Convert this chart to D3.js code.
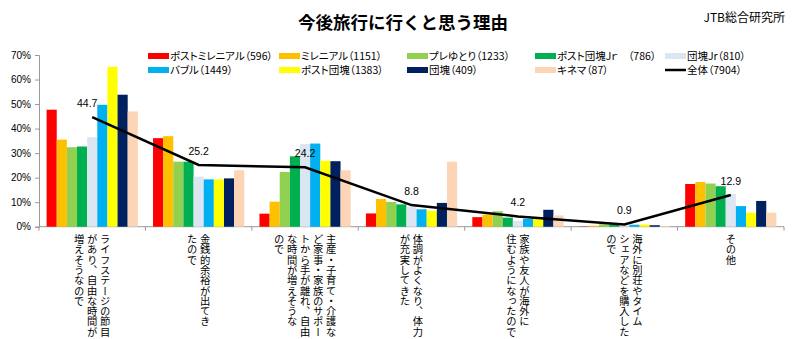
<!DOCTYPE html>
<html>
<head>
<meta charset="utf-8">
<script src="https://cdn.jsdelivr.net/npm/d3@7/dist/d3.min.js"></script>
<style>
  html, body { margin: 0; padding: 0; background: #fff; }
  svg { display: block; }
  .jp { font-family: "Noto Sans CJK JP", "Noto Sans", sans-serif; }
  .num { font-family: "Liberation Sans", Arial, sans-serif; }
</style>
</head>
<body>
<svg id="chart" width="800" height="339"></svg>
<script>
// Reasons (category labels, one entry per line of the stacked vertical label)
const categories = [
  ["ライフステージの節目", "があり、自由な時間が", "増えそうなので"],
  ["金銭的余裕が出てき", "たので"],
  ["主産・子育て・介護な", "ど家事・家族のサポー", "トから手が離れ、自由", "な時間が増えそうな", "ので"],
  ["体調がよくなり、体力", "が充実してきた"],
  ["家族や友人が海外に", "住むようになったので"],
  ["海外に別荘やタイム", "シェアなどを購入した", "ので"],
  ["その他"]
];

// Generation series (%)
const postMillennial = [47.7, 36.1, 5.3, 5.4, 3.9, 0.1, 17.4];
const millennial     = [35.5, 36.9, 10.2, 11.3, 4.9, 0.4, 18.2];
const preYutori      = [32.4, 26.5, 22.3, 10.1, 6.3, 1.0, 17.6];
const postDankaiJr   = [32.7, 26.5, 28.7, 9.1, 3.7, 0.9, 16.5];
const dankaiJr       = [36.5, 20.4, 33.7, 8.2, 2.4, 0.5, 13.3];
const bubble         = [49.7, 19.3, 33.9, 7.1, 3.2, 0.8, 8.4];
const postDankai     = [65.2, 19.3, 26.9, 6.5, 3.1, 0.9, 5.7];
const dankai         = [53.8, 19.7, 26.7, 9.7, 6.9, 0.6, 10.5];
const kinema         = [47.0, 23.0, 23.0, 26.5, 4.6, 0.3, 5.7];
const total          = [44.7, 25.2, 24.2, 8.8, 4.2, 0.9, 12.9];

const seriesNames = [
  "ポストミレニアル（596）", "ミレニアル（1151）", "プレゆとり（1233）",
  "ポスト団塊Jｒ　（786）", "団塊Jr（810）", "バブル（1449）",
  "ポスト団塊（1383）", "団塊（409）", "キネマ（87）"
];
const totalName = "全体（7904）";
const seriesValues = [postMillennial, millennial, preYutori, postDankaiJr, dankaiJr,
                      bubble, postDankai, dankai, kinema];
const seriesColors = ["#FF0000", "#FFC000", "#92D050", "#00B050", "#DCE6F2",
                      "#00B0F0", "#FFFF00", "#002060", "#FBD5B5"];
const yTicks = [0, 10, 20, 30, 40, 50, 60, 70];

const svg = d3.select("#chart");
const plot = { left: 39, right: 784, top: 55, bottom: 226.7 };

const x = d3.scaleBand()
  .domain(d3.range(categories.length))
  .range([plot.left, plot.right])
  .padding(0);

const xInner = d3.scaleBand()
  .domain(d3.range(seriesValues.length))
  .range([0, x.bandwidth()])
  .paddingInner(0)
  .paddingOuter(0.75);

const y = d3.scaleLinear().domain([0, 70]).range([plot.bottom, plot.top]);

// Title
svg.append("text").attr("class", "jp")
  .attr("x", 403).attr("y", 28.5)
  .attr("text-anchor", "middle")
  .attr("font-size", 17.5).attr("font-weight", "bold")
  .text("今後旅行に行くと思う理由");

svg.append("text").attr("class", "jp")
  .attr("x", 785).attr("y", 22)
  .attr("text-anchor", "end")
  .attr("font-size", 12)
  .text("JTB総合研究所");

// Legend: two rows of five entries; the overall line closes the second row
const legendCols = [148, 279, 407, 535, 665];
const legendRows = [56, 70];
const legendItems = seriesNames.map((n, i) => ({ name: n, color: seriesColors[i], type: "bar" }))
  .concat([{ name: totalName, color: "#000", type: "line" }]);
const legend = svg.append("g").attr("class", "legend");
legendItems.forEach((item, k) => {
  const lx = legendCols[k % 5], ly = legendRows[Math.floor(k / 5)];
  if (item.type === "bar") {
    legend.append("rect").attr("x", lx).attr("y", ly - 3).attr("width", 21).attr("height", 6)
      .attr("fill", item.color);
  } else {
    legend.append("line").attr("x1", lx).attr("x2", lx + 21).attr("y1", ly).attr("y2", ly)
      .attr("stroke", "#000").attr("stroke-width", 2.5);
  }
  legend.append("text").attr("class", "jp")
    .attr("x", lx + 22).attr("y", ly + 3.7)
    .attr("font-size", 10.5)
    .style("font-feature-settings", "'palt'")
    .text(item.name);
});

// Y axis
const yAxis = d3.axisLeft(y).tickValues(yTicks).tickFormat(d => d + "%").tickSize(4).tickPadding(4);
const gy = svg.append("g").attr("transform", `translate(${plot.left},0)`).call(yAxis);
gy.select(".domain").attr("stroke", "#999");
gy.selectAll(".tick line").attr("stroke", "#999");
gy.selectAll(".tick text").attr("class", "num").attr("font-size", 10).attr("fill", "#000")
  .attr("font-family", "Liberation Sans, Arial, sans-serif");

// X axis line with boundary ticks between categories
const gx = svg.append("g");
gx.append("line").attr("x1", plot.left).attr("x2", plot.right)
  .attr("y1", plot.bottom).attr("y2", plot.bottom).attr("stroke", "#999");
gx.selectAll("line.bound").data(d3.range(categories.length + 1)).join("line")
  .attr("class", "bound")
  .attr("x1", d => plot.left + d * x.step()).attr("x2", d => plot.left + d * x.step())
  .attr("y1", plot.bottom).attr("y2", plot.bottom + 4).attr("stroke", "#999");

// Bars
const groups = svg.append("g").selectAll("g").data(categories).join("g")
  .attr("transform", (d, i) => `translate(${x(i)},0)`);
groups.selectAll("rect").data((d, i) => seriesValues.map((s, j) => ({ s: j, v: s[i] }))).join("rect")
  .attr("x", d => xInner(d.s))
  .attr("width", xInner.bandwidth())
  .attr("y", d => y(d.v))
  .attr("height", d => y(0) - y(d.v))
  .attr("fill", d => seriesColors[d.s]);

// Overall line
const cx = i => x(i) + x.bandwidth() / 2;
svg.append("path").datum(total)
  .attr("fill", "none").attr("stroke", "#000").attr("stroke-width", 2.5)
  .attr("d", d3.line().x((d, i) => cx(i)).y(d => y(d)));

svg.append("g").selectAll("text").data(total).join("text")
  .attr("class", "num")
  .attr("x", (d, i) => cx(i) - (i === 0 ? 5 : 0)).attr("y", d => y(d) - 10)
  .attr("text-anchor", "middle").attr("font-size", 10.5)
  .text(d => d.toFixed(1));

// Category labels: vertical lines, read right to left
const lineGap = 13;
const labels = svg.append("g");
categories.forEach((lines, i) => {
  const n = lines.length;
  lines.forEach((ln, k) => {
    labels.append("text").attr("class", "jp")
      .attr("x", cx(i) + ((n - 1) / 2 - k) * lineGap)
      .attr("y", 234)
      .attr("font-size", 10.3)
      .style("writing-mode", "vertical-rl")
      .style("text-orientation", "upright")
      .text(ln);
  });
});
</script>
</body>
</html>
